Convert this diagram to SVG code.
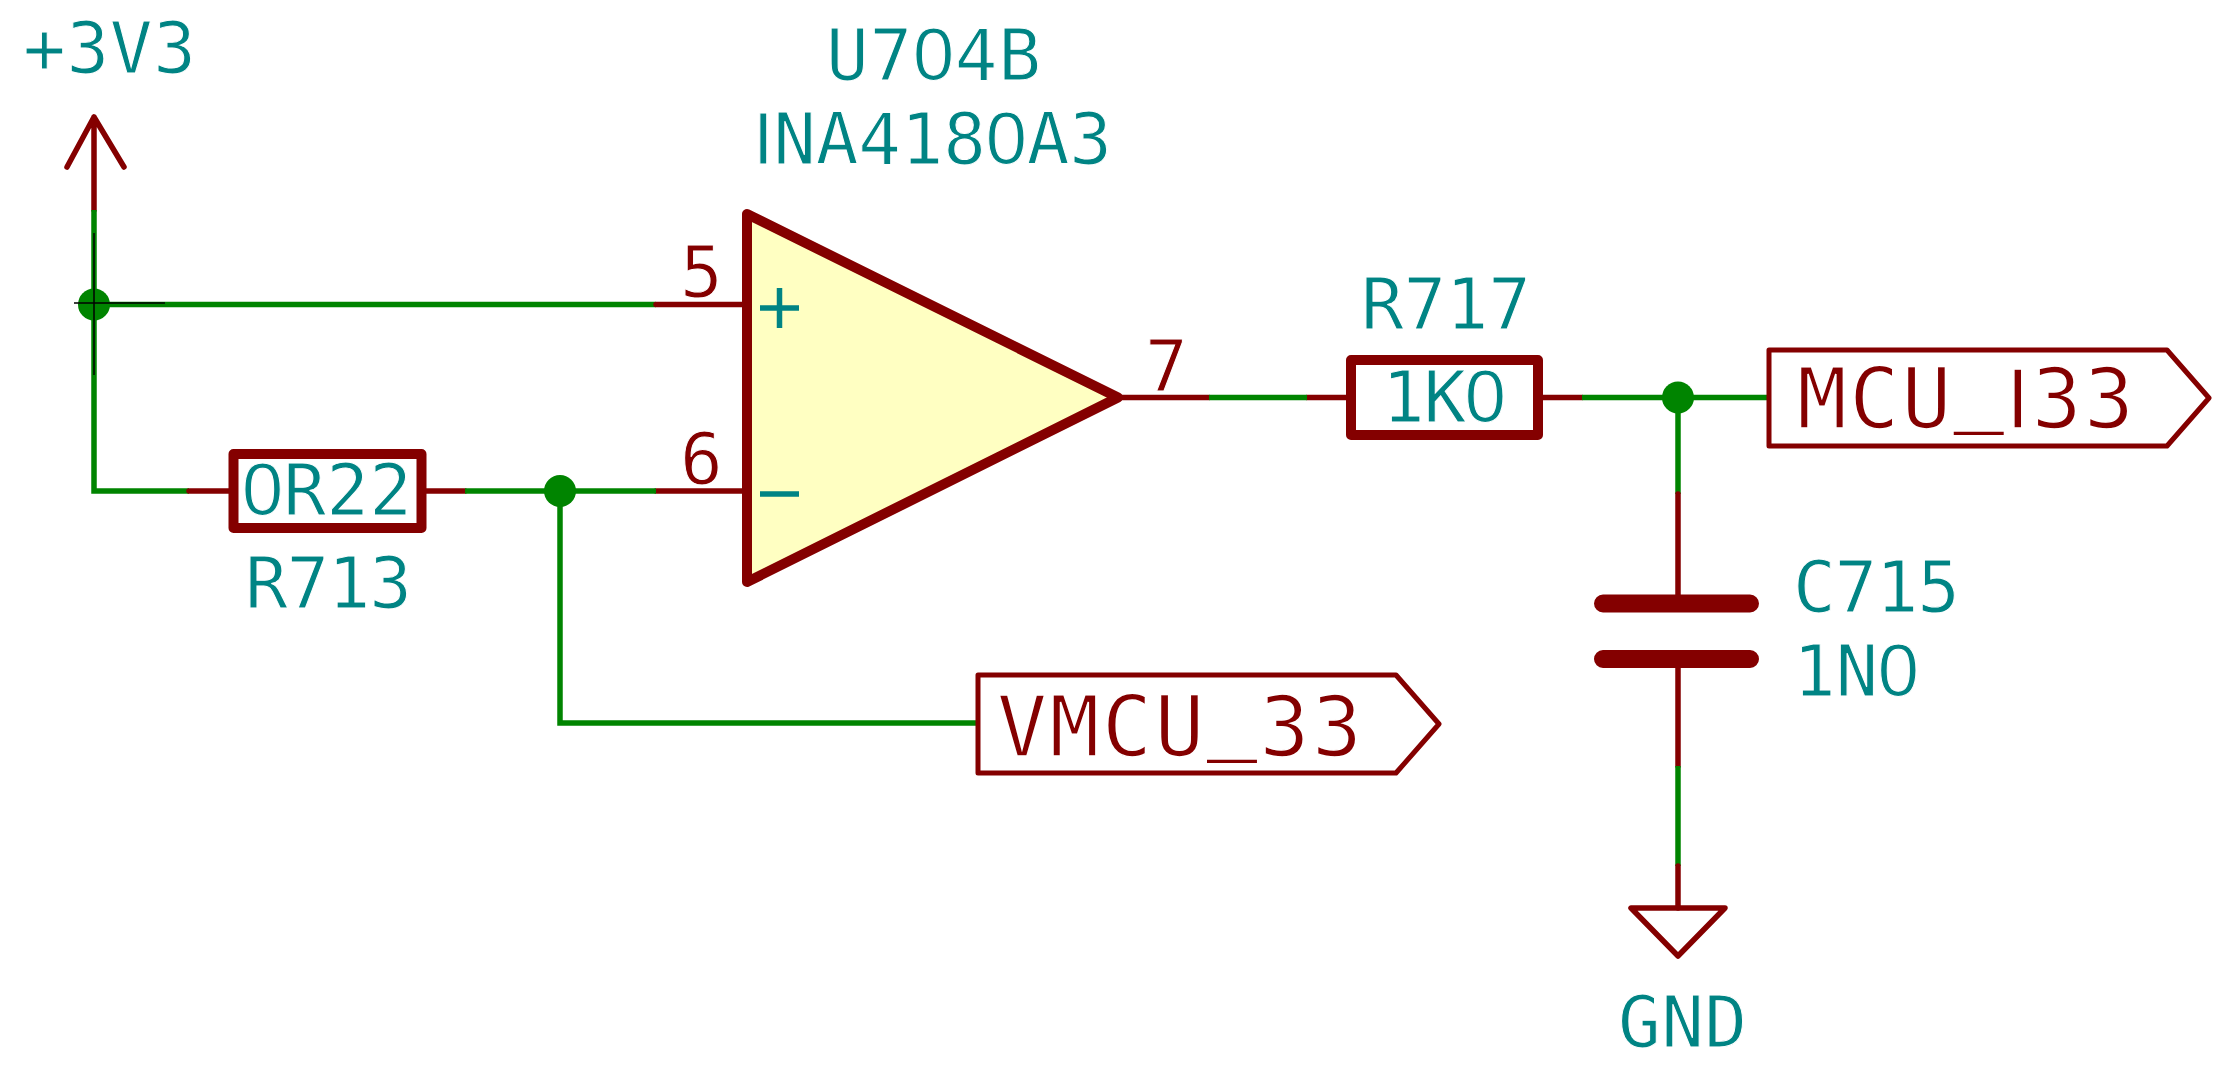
<svg xmlns="http://www.w3.org/2000/svg" width="2237" height="1072" viewBox="0 0 2237 1072">
<style>
text{font-family:"DejaVu Sans Mono","Liberation Mono",monospace;font-size:71px;fill:#008484;stroke:#fff;stroke-width:1}
.z{font-family:"Liberation Sans",sans-serif;font-size:74px}
.r{fill:#840000}
.big{font-size:83px;fill:#840000;stroke-width:1.500}
.big .z{font-size:85px}
.u{stroke:none}
.w{stroke:#008400;stroke-width:5.500;fill:none}
.p{stroke:#840000;stroke-width:5.500;fill:none;stroke-linecap:round;stroke-linejoin:round}
.b{stroke:#840000;stroke-width:10;fill:#fff;stroke-linejoin:round}
.l{stroke:#840000;stroke-width:5;fill:#fff;stroke-linejoin:round}
.j{fill:#008400}
.x{stroke:#000;stroke-width:1.5}
.m{stroke:#008484;stroke-width:5.500;fill:none}
</style>
<rect width="2237" height="1072" fill="#fff"/>
<g id="connectors">
<path class="p" d="M94 210V117M67 167L94 117L124 167"/>
<path class="w" d="M94 210V491H189"/>
<path class="w" d="M94 304.500H656"/>
<path class="p" d="M189 491H229M656 304.500H745"/>
<path class="p" d="M426 491H465M656 491H745"/>
<path class="w" d="M465 491H656"/>
<path class="w" d="M560 491V723H978"/>
<path class="p" d="M1122 397.500H1209M1307 397.500H1348"/>
<path class="w" d="M1209 397.500H1307"/>
<path class="p" d="M1542 397.500H1582"/>
<path class="w" d="M1582 397.500H1769"/>
<path class="w" d="M1678 397.500V494"/>
<path class="p" d="M1678 494V596M1678 668V766"/>
<path class="w" d="M1678 766V866"/>
<path class="p" d="M1678 866V908"/>
<circle class="j" cx="94" cy="304.500" r="16"/>
<circle class="j" cx="560" cy="491" r="16"/>
<circle class="j" cx="1678" cy="397.500" r="16"/>
<path class="x" d="M74 303H165M94 233V375"/>
</g>
<g id="pwr-3v3"><text x="23" y="73" textLength="173" lengthAdjust="spacing">+3V3</text></g>
<g id="R713">
<rect class="b" x="233.500" y="454" width="188" height="74"/>
<text x="242" y="515" textLength="170" lengthAdjust="spacing"><tspan class="z">0</tspan>R22</text>
<text x="245" y="608" textLength="167" lengthAdjust="spacing">R713</text>
</g>
<g id="U704B">
<path class="b" style="fill:#ffffc2" d="M747 214V582L1118 397.500Z"/>
<path class="m" d="M760 308H799M779.500 288V328M760 494H799"/>
<text class="r" x="680" y="296.500">5</text>
<text class="r" x="680" y="484">6</text>
<text class="r" x="1145" y="391">7</text>
<text x="826" y="80" textLength="215" lengthAdjust="spacing">U7<tspan class="z">0</tspan>4B</text>
<text x="753" y="164" textLength="359" lengthAdjust="spacing"><tspan class="z">I</tspan>NA418<tspan class="z">0</tspan>A3</text>
</g>
<g id="R717">
<rect class="b" x="1351" y="360" width="187" height="75"/>
<text x="1382" y="421.500" textLength="124" lengthAdjust="spacing">1K<tspan class="z">0</tspan></text>
<text x="1361" y="328.500" textLength="170" lengthAdjust="spacing">R717</text>
</g>
<g id="C715">
<path class="p" style="stroke-width:18" d="M1603 603.500H1750M1603 659H1750"/>
<text x="1793" y="611.500" textLength="167" lengthAdjust="spacing">C715</text>
<text x="1793" y="695.500" textLength="126" lengthAdjust="spacing">1N<tspan class="z">0</tspan></text>
</g>
<g id="GND">
<path class="p" d="M1631 908H1725L1678 956Z"/>
<text x="1618" y="1047" textLength="129" lengthAdjust="spacing">GND</text>
</g>
<g id="VMCU_33">
<path class="l" d="M978 675H1396L1439 724L1396 773H978Z"/>
<text class="big" x="997" y="756" textLength="365" lengthAdjust="spacing">VMCU<tspan class="u" dy="-13">_</tspan><tspan dy="13">33</tspan></text>
</g>
<g id="MCU_I33">
<path class="l" d="M1769 350H2167L2209 398L2167 446H1769Z"/>
<text class="big" x="1797" y="428" textLength="337" lengthAdjust="spacing">MCU<tspan class="u" dy="-13">_</tspan><tspan class="z" dy="13">I</tspan>33</text>
</g>
</svg>
